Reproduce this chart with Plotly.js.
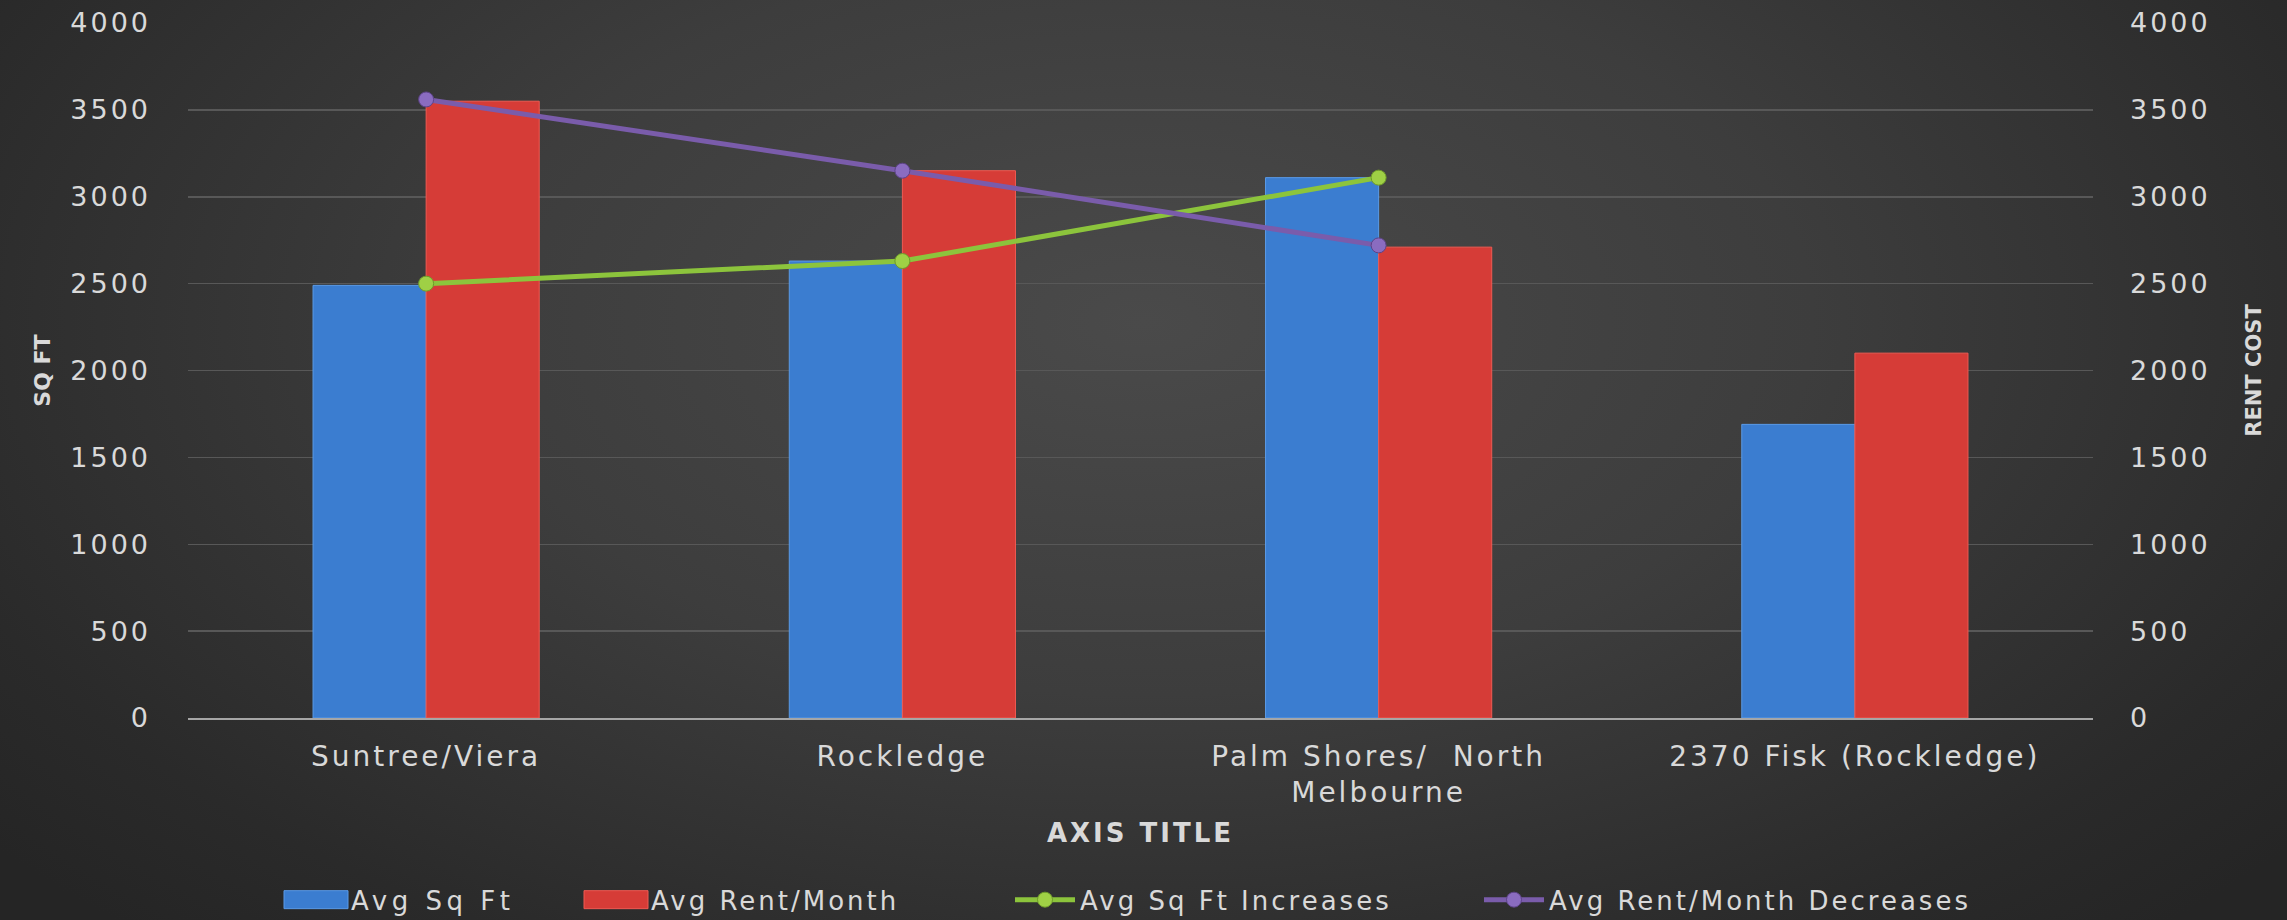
<!DOCTYPE html>
<html>
<head>
<meta charset="utf-8">
<script src="https://cdn.plot.ly/plotly-3.0.1.min.js"></script>
<style>
  html, body { margin: 0; padding: 0; width: 2287px; height: 920px; overflow: hidden; }
  body { background: radial-gradient(ellipse 65% 90% at 50% 35%, #4a4a4a 0%, #3d3d3d 45%, #2a2a2a 85%, #252525 100%); }
  #chart { width: 2287px; height: 920px; }
  text { letter-spacing: 3px; }
  text.legendtext { letter-spacing: 4.5px; }
  text.ytitle, text.y2title { letter-spacing: 0px; }
</style>
</head>
<body>
<div id="chart"></div>
<script>
const categories = ["Suntree/Viera", "Rockledge", "Palm Shores/  North<br>Melbourne", "2370 Fisk (Rockledge)"];
const avgSqFt = [2490, 2630, 3110, 1690];
const avgRentMonth = [3550, 3150, 2710, 2100];
const lineCategories = ["Suntree/Viera", "Rockledge", "Palm Shores/  North<br>Melbourne"];
const sqFtIncreases = [2500, 2630, 3110];
const rentDecreases = [3560, 3150, 2720];
const yTicks = [0, 500, 1000, 1500, 2000, 2500, 3000, 3500, 4000];

const textColor = "#d9d9d9";
const fontFamily = "'DejaVu Sans', Verdana, sans-serif";

const traces = [
  {
    type: "bar", name: "Avg Sq Ft", x: categories, y: avgSqFt,
    marker: { color: "#3b7dd0", line: { color: "#5a9ae6", width: 1 } },
    yaxis: "y", legend: "legend"
  },
  {
    type: "bar", name: "Avg Rent/Month", x: categories, y: avgRentMonth,
    marker: { color: "#d63c37", line: { color: "#ef5a52", width: 1 } },
    yaxis: "y", legend: "legend2"
  },
  {
    type: "scatter", mode: "lines+markers", name: "Avg Sq Ft Increases",
    x: lineCategories, y: sqFtIncreases,
    line: { color: "#8cc43c", width: 5 },
    marker: { color: "#9fd045", size: 15, line: { color: "#6e9a2a", width: 1 } },
    yaxis: "y", legend: "legend3"
  },
  {
    type: "scatter", mode: "lines+markers", name: "Avg Rent/Month Decreases",
    x: lineCategories, y: rentDecreases,
    line: { color: "#7a5cab", width: 5 },
    marker: { color: "#8a6cc0", size: 15, line: { color: "#5d4388", width: 1 } },
    yaxis: "y2", legend: "legend4"
  }
];

const yCommon = {
  range: [0, 4000], tickvals: yTicks, ticktext: yTicks.map(String),
  tickfont: { family: fontFamily, size: 27, color: textColor },
  ticks: "", ticklabelstandoff: 36, zeroline: false, showline: false, fixedrange: true
};

function legendAt(px) {
  return {
    orientation: "h", xref: "container", yref: "container",
    x: px / 2287, xanchor: "left", y: 0.022, yanchor: "middle",
    font: { family: fontFamily, size: 26, color: textColor },
    itemwidth: 60, bgcolor: "rgba(0,0,0,0)"
  };
}

const layout = {
  width: 2287, height: 920,
  paper_bgcolor: "rgba(0,0,0,0)", plot_bgcolor: "rgba(0,0,0,0)",
  margin: { l: 188, r: 194, t: 23, b: 202, pad: 0 },
  barmode: "group", bargap: 0.525, bargroupgap: 0,
  showlegend: true,
  font: { family: fontFamily, color: textColor },
  xaxis: {
    type: "category",
    tickfont: { family: fontFamily, size: 28, color: textColor },
    showgrid: false, zeroline: false,
    showline: true, linecolor: "#a6a6a6", linewidth: 2,
    ticks: "", ticklabelstandoff: 12,
    title: { text: "AXIS TITLE", font: { family: fontFamily, size: 26, color: textColor, weight: "bold" }, standoff: 16 }
  },
  yaxis: Object.assign({}, yCommon, {
    side: "left", showgrid: true, gridcolor: "#585858", gridwidth: 1.5,
    title: { text: "SQ FT", font: { family: fontFamily, size: 22, color: textColor, weight: "bold" }, standoff: 13 }
  }),
  yaxis2: Object.assign({}, yCommon, {
    side: "right", overlaying: "y", showgrid: false,
    title: { text: "RENT COST", font: { family: fontFamily, size: 21, color: textColor, weight: "bold" }, standoff: 36 }
  }),
  legend: legendAt(281),
  legend2: legendAt(581),
  legend3: legendAt(1010),
  legend4: legendAt(1479)
};

Plotly.newPlot("chart", traces, layout, { displayModeBar: false, staticPlot: true }).then(function (gd) {
  // widen the bar legend swatches to the wide rectangle style of the original
  gd.querySelectorAll("path.legendbar, g.legendpoints path.legendundefined").forEach(function (p) {
    p.setAttribute("d", "M32,9H-32V-9H32Z");
  });
});
</script>
</body>
</html>
